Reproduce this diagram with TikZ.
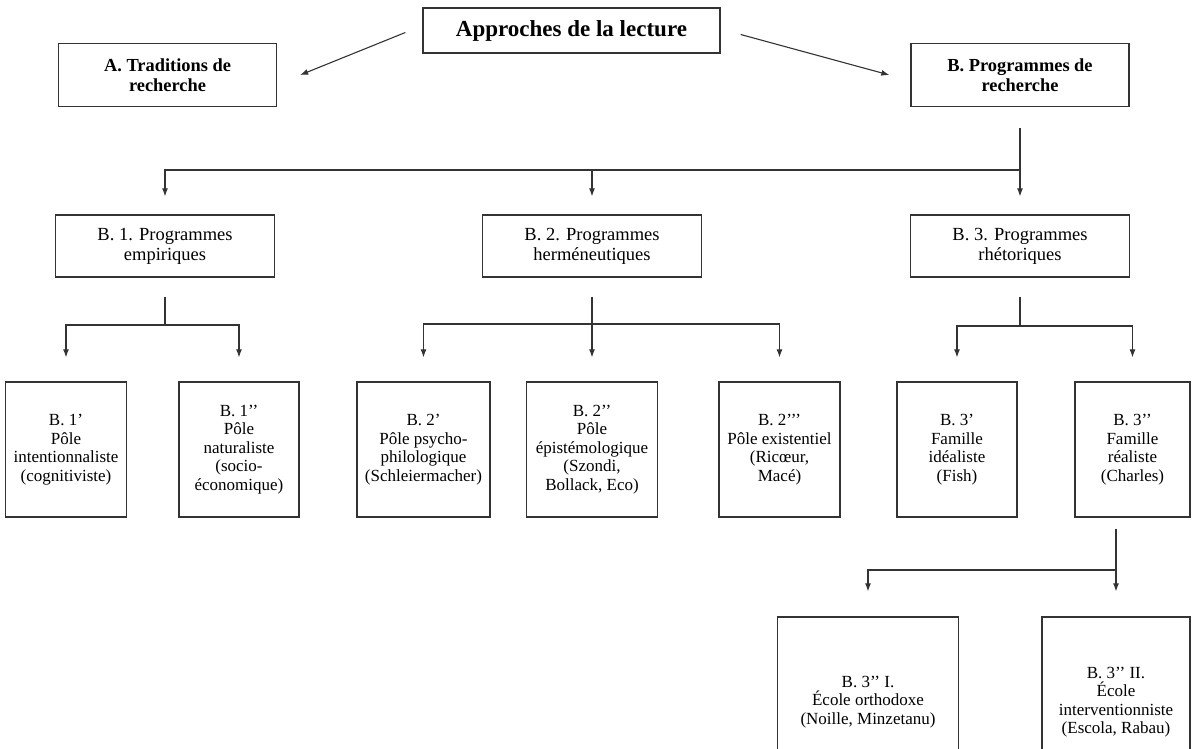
\documentclass[tikz,border=0pt]{standalone}
\usepackage{fontspec}
\setmainfont{Liberation Serif}
\usetikzlibrary{arrows.meta}

\begin{document}
\begin{tikzpicture}[x=1pt,y=-1pt,
        boite/.style={draw=black!80,line width=1.3pt,align=center,inner sep=2pt},
        titre/.style={boite,minimum width=218pt,minimum height=63pt,font=\fontsize{18.4}{20}\selectfont\bfseries},
        programme/.style={boite,minimum width=219pt,minimum height=62pt,font=\fontsize{18.5}{20}\selectfont},
        pole/.style={boite,minimum height=135pt,font=\fontsize{17}{18.5}\selectfont},
        trait/.style={draw=black!80,line width=1.1pt},
        fleche/.style={trait,-{Latex[length=8pt,width=6pt]}}]
    \path[use as bounding box,clip] (0,0) rectangle (1192,749);
    % sommet
    \node[boite,minimum width=297pt,minimum height=45pt,font=\fontsize{23}{26}\selectfont\bfseries] (racine) at (571.5,30.5) {Approches de la lecture};
    \node[titre] (a) at (167.5,75) {A. Traditions de\\recherche};
    \node[titre] (b) at (1020,75) {B. Programmes de\\recherche};
    \draw[fleche] ([xshift=-17pt,yshift=-2pt]racine.west) -- ([xshift=23pt]a.east);
    \draw[fleche] ([xshift=20pt,yshift=-4pt]racine.east) -- ([xshift=-21pt]b.west);
    % programmes
    \node[programme] (b1) at (165,246) {B. 1. Programmes\\empiriques};
    \node[programme] (b2) at (592,246) {B. 2. Programmes\\herméneutiques};
    \node[programme] (b3) at (1020,246) {B. 3. Programmes\\rhétoriques};
    \coordinate (jb) at (1020,170);
    \draw[trait] ([yshift=-21pt]b.south) -- (jb);
    \draw[fleche] (jb) -- ([yshift=18pt]b3.north);
    \draw[fleche] (jb) -| ([yshift=18pt]b1.north);
    \draw[fleche] (b2.north |- jb) -- ([yshift=18pt]b2.north);
    % poles et familles
    \node[pole,minimum width=121pt] (b1p) at (66,449.5) {B. 1’\\Pôle\\intentionnaliste\\(cognitiviste)};
    \node[pole,minimum width=120pt] (b1s) at (239,449.5) {B. 1’’\\Pôle\\naturaliste\\(socio-\\économique)};
    \node[pole,minimum width=133pt] (b2p) at (423.5,449.5) {B. 2’\\Pôle psycho-\\philologique\\(Schleiermacher)};
    \node[pole,minimum width=131pt] (b2s) at (592,449.5) {B. 2’’\\Pôle\\épistémologique\\(Szondi,\\Bollack, Eco)};
    \node[pole,minimum width=121pt] (b2t) at (779.5,449.5) {B. 2’’’\\Pôle existentiel\\(Ricœur,\\Macé)};
    \node[pole,minimum width=120pt] (b3p) at (957,449.5) {B. 3’\\Famille\\idéaliste\\(Fish)};
    \node[pole,minimum width=115pt] (b3s) at (1132.5,449.5) {B. 3’’\\Famille\\réaliste\\(Charles)};
    \coordinate (j1) at (165,325);
    \draw[trait] ([yshift=-19pt]b1.south) -- (j1);
    \draw[fleche] (j1) -| ([yshift=24pt]b1p.north);
    \draw[fleche] (j1) -| ([yshift=24pt]b1s.north);
    \coordinate (j2) at (592,324);
    \draw[fleche] ([yshift=-19pt]b2.south) -- ([yshift=24pt]b2s.north);
    \draw[fleche] (j2) -| ([yshift=24pt]b2p.north);
    \draw[fleche] (j2) -| ([yshift=24pt]b2t.north);
    \coordinate (j3) at (1020,326);
    \draw[trait] ([yshift=-19pt]b3.south) -- (j3);
    \draw[fleche] (j3) -| ([yshift=24pt]b3p.north);
    \draw[fleche] (j3) -| ([yshift=24pt]b3s.north);
    % ecoles
    \node[pole,minimum width=181pt,minimum height=170pt] (ortho) at (868,702) {B. 3’’ I.\\École orthodoxe\\(Noille, Minzetanu)};
    \node[pole,minimum width=148pt,minimum height=170pt] (interv) at (1116,702) {B. 3’’ II.\\École\\interventionniste\\(Escola, Rabau)};
    \coordinate (j4) at (1116,570);
    \draw[trait,shorten <=11pt] (b3s.south -| j4) -- (j4);
    \draw[fleche] (j4) -| ([yshift=25pt]ortho.north);
    \draw[fleche] (j4) -- ([yshift=25pt]interv.north);
\end{tikzpicture}
\end{document}
